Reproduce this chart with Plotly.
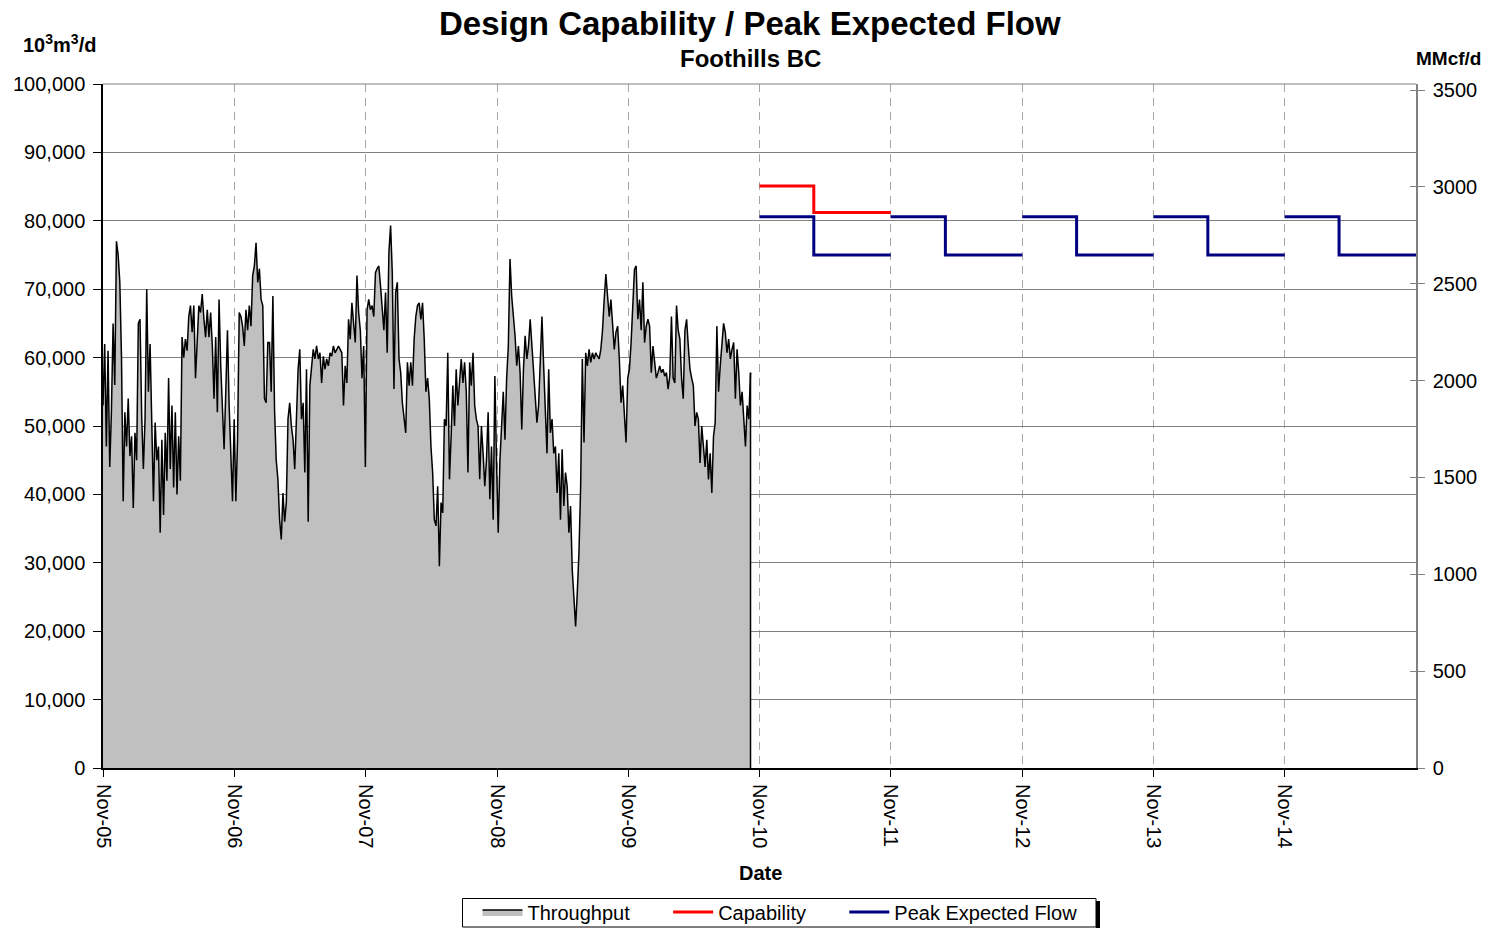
import pandas as pd
import plotly.graph_objects as go

# ---------------- data ----------------
throughput_start = "2005-11-01"
throughput_end = "2010-10-07"
throughput = [
    # Nov-05 .. Nov-06
    53000, 62000, 47000, 61000, 44000, 52000, 65000, 56000, 77000, 75000,
    71000, 60000, 39000, 52000, 47000, 54000, 45600, 48500, 38000, 49000,
    45000, 65000, 65600, 51500, 43700, 51000, 70000, 55000, 62000, 49500,
    39000, 50500, 45000, 47000, 34400, 48000, 37000, 49000, 42000, 57000,
    43700, 53000, 41000, 52000, 40000, 48500, 42000, 63000,
    60000, 62700, 61000, 66000, 67600, 63700, 67600, 57000, 62700, 67600,
    66600, 69300, 65600, 63000, 67000, 63000, 66600, 61700, 54000, 63000,
    52000, 68500, 58800, 52000, 46600, 55000, 64000, 53000, 46600, 39000,
    51000, 39000, 48000, 66600, 66000, 64600, 61700, 67000, 64000, 67600,
    64600, 72000, 73400, 76800, 71000, 73000, 68500, 67600, 54000, 53400,
    62200,
    # Nov-06 .. Nov-07
    62200, 55000, 69000, 52400, 45000, 42200, 36300, 33400, 40200, 36000,
    38800, 51000, 53400, 50000, 48000, 43700, 53000, 58300, 61200, 51000,
    53400, 43200, 58300, 36000, 55900, 59300, 61200, 59800, 61700, 59800,
    60700, 56300, 60200, 58300, 59800, 58800, 60700, 60200, 61700, 60700,
    61200, 61700, 61200, 60700, 53000, 58800, 56300, 65600, 62700, 68000,
    65000, 62200, 72000, 66600, 64000, 57000, 61700, 44000, 67000, 68500,
    67000, 67600, 66000, 72400, 73000, 73400, 70500, 67600, 64000, 69500,
    60700, 75400, 79300, 72400, 55400, 69500, 71000, 59800, 57800, 53400,
    51000, 49000, 59300, 55900, 59300, 55900, 62700, 66000, 67600, 68000,
    65600, 68000, 62700, 55000, 57000, 54000, 47000, 43200, 36300, 35400,
    # Nov-07 .. Nov-09
    41200, 29500, 38800, 37300, 51000, 50000, 60700, 42200, 48500, 55900,
    50000, 58300, 53000, 57300, 59800, 56300, 59300, 55000, 43200, 59300,
    55900, 60700, 53000, 51000, 50000, 42200, 50000, 46000, 41200, 45000,
    52000, 39300, 47000, 36300, 57300, 44600, 34400, 45000, 50000, 55000,
    48000, 57000, 61700, 74400, 69000, 66600, 63200, 58800, 61700, 57800,
    49500, 58300, 63200, 59800, 61700, 65600, 61700, 58800, 54000, 50500,
    53000, 60700, 66000, 58800, 52000, 46000, 58300, 49000, 51000, 46000,
    47000, 40200, 46000, 36300, 46600, 38300, 43200, 41200, 34400, 38300,
    29000, 25600, 20700, 25600, 31500, 41200, 59800, 47600, 60700, 58800,
    61200, 59300, 60700, 59800, 60700,
    # Nov-09 .. Oct-10
    60200, 59800, 61200, 64000, 68500, 72200, 69000, 66000, 68500, 64600,
    61200, 63700, 64600, 59800, 53400, 55900, 51000, 47600, 57000, 58300,
    62200, 68000, 72900, 73400, 65600, 68500, 64000, 71000, 62200, 64600,
    65600, 64600, 57800, 61700, 59300, 57000, 57800, 58800, 57800, 58300,
    57300, 57800, 55400, 57300, 66000, 57000, 56300, 67600, 64000, 62700,
    57000, 54000, 64000, 65600, 61700, 58300, 57000, 55900, 50000, 52000,
    51000, 44600, 50000, 47000, 44000, 48000, 42200, 46000, 40200, 48500,
    50500, 64600, 55000, 58800, 61700, 65000, 63700, 60700, 62700, 59800,
    61200, 62200, 54000, 61200, 57800, 53000, 55000, 51000, 47000, 53000,
    51000, 57800,
]

gas_years = [2010, 2011, 2012, 2013, 2014]
capability_years = [2010]
capability_winter = [85100]
capability_summer = [81200]
peak_winter = [80600, 80600, 80600, 80600, 80600]
peak_summer = [75000, 75000, 75000, 75000, 75000]

series_names = ["Throughput", "Capability", "Peak Expected Flow"]
tick_years = list(range(2005, 2016))
tick_labels = ["Nov-%02d" % (y % 100) for y in tick_years[:-1]]
left_ticks = list(range(0, 100001, 10000))
right_ticks = list(range(0, 3501, 500))
M3_TO_MMCF = 0.0353147  # 10^3 m3/d -> MMcf/d

# ---------------- layout geometry (figure pixels) ----------------
FONT = "Liberation Sans, Arial, sans-serif"
PAD = "&nbsp;" * 6  # extra spacing between legend entries
W, H = 1481, 920          # page has an 8px body margin
ML, MR, MT, MB = 95, 73, 76, 160
PW, PH = W - ML - MR, H - MT - MB


def px(x):
    return (x - ML) / PW


def py(y):
    return (H - MB - y) / PH


tp_dates = pd.date_range(throughput_start, throughput_end, periods=len(throughput))


def seasonal(years, winter, summer):
    xs, ys = [], []
    for y, w, s in zip(years, winter, summer):
        xs += [f"{y}-11-01", f"{y+1}-04-01", f"{y+1}-11-01", None]
        ys += [w, s, s, None]
    return xs, ys


cap_x, cap_y = seasonal(capability_years, capability_winter, capability_summer)
pk_x, pk_y = seasonal(gas_years, peak_winter, peak_summer)

fig = go.Figure()
fig.add_trace(go.Scatter(
    x=tp_dates, y=throughput, name=series_names[0] + PAD, mode="lines",
    line=dict(color="black", width=1.5), fill="tozeroy", fillcolor="#C0C0C0",
))
fig.add_trace(go.Scatter(
    x=cap_x, y=cap_y, name=series_names[1] + PAD, mode="lines", line_shape="hv",
    line=dict(color="#FF0000", width=3), connectgaps=False,
))
fig.add_trace(go.Scatter(
    x=pk_x, y=pk_y, name=series_names[2], mode="lines", line_shape="hv",
    line=dict(color="#000080", width=3), connectgaps=False,
))
# invisible traces to carry the right axis (outside + inside ticks = cross)
fig.add_trace(go.Scatter(
    x=[tp_dates[0]], y=[0], yaxis="y2", mode="lines",
    line=dict(width=0), showlegend=False, hoverinfo="skip",
))
fig.add_trace(go.Scatter(
    x=[tp_dates[0]], y=[0], yaxis="y3", mode="lines",
    line=dict(width=0), showlegend=False, hoverinfo="skip",
))

# vertical closing edge of the throughput area
fig.add_shape(type="line", x0=tp_dates[-1], x1=tp_dates[-1], y0=0,
              y1=throughput[-1], line=dict(color="black", width=1.5))
# top border of plot box
fig.add_shape(type="line", xref="paper", yref="paper", x0=0, x1=1, y0=1, y1=1,
              line=dict(color="#808080", width=1))
# legend frame with drop shadow
fig.add_shape(type="rect", xref="paper", yref="paper",
              x0=px(1088), x1=px(1092), y0=py(893), y1=py(921),
              fillcolor="black", line=dict(width=0))
fig.add_shape(type="rect", xref="paper", yref="paper",
              x0=px(454.5), x1=px(1088), y0=py(890.5), y1=py(919),
              fillcolor="rgba(0,0,0,0)", line=dict(color="black", width=1))

fig.update_layout(
    width=W, height=H,
    margin=dict(l=ML, r=MR, t=MT, b=MB, autoexpand=False),
    paper_bgcolor="white", plot_bgcolor="white",
    font=dict(family=FONT, size=20, color="black"),
    showlegend=True,
    legend=dict(
        orientation="h", xref="container", yref="container",
        x=772 / W, xanchor="center", y=0.0174, yanchor="middle",
        borderwidth=0, bgcolor="rgba(0,0,0,0)",
        font=dict(size=20), itemwidth=40, traceorder="normal",
    ),
    xaxis=dict(
        type="date", range=["2005-11-01", "2015-11-01"],
        tickvals=[f"{y}-11-01" for y in tick_years[:-1]], ticktext=tick_labels,
        tickangle=90, ticks="outside", ticklen=7, tickcolor="black",
        showline=True, linecolor="black", linewidth=2,
        showgrid=True, gridcolor="#A6A6A6", griddash="8px,6px", gridwidth=1,
        zeroline=False, tickfont=dict(size=20), ticklabelstandoff=3,
        automargin=False,
    ),
    yaxis=dict(
        range=[0, 100000], tickvals=left_ticks, tickformat=",",
        ticks="outside", ticklen=8, tickcolor="black",
        showline=True, linecolor="black", linewidth=1.5,
        showgrid=True, gridcolor="#808080", gridwidth=1, zeroline=False,
        tickfont=dict(size=20), ticklabelstandoff=4, automargin=False,
    ),
    yaxis2=dict(
        overlaying="y", side="right", range=[0, 100000 * M3_TO_MMCF],
        tickvals=right_ticks, ticks="outside", ticklen=7, tickcolor="#808080",
        showline=True, linecolor="#808080", linewidth=1.5,
        showgrid=False, zeroline=False, tickfont=dict(size=20),
        ticklabelstandoff=4, automargin=False,
    ),
    yaxis3=dict(
        overlaying="y", side="right", range=[0, 100000 * M3_TO_MMCF],
        tickvals=right_ticks, ticks="inside", ticklen=6, tickcolor="#808080",
        showline=False, showgrid=False, zeroline=False,
        showticklabels=False, automargin=False,
    ),
    annotations=[
        dict(text="<b>Design Capability / Peak Expected Flow</b>", xref="paper",
             yref="paper", x=px(742), y=py(16), xanchor="center",
             yanchor="middle", showarrow=False, font=dict(size=33)),
        dict(text="<b>Foothills BC</b>", xref="paper", yref="paper",
             x=px(742), y=py(50), xanchor="center",
             yanchor="middle", showarrow=False, font=dict(size=24)),
        dict(text="<b>10<sup>3</sup>m<sup>3</sup>/d</b>", xref="paper", yref="paper",
             x=px(13), y=py(36), xanchor="left",
             yanchor="middle", showarrow=False, font=dict(size=20)),
        dict(text="<b>MMcf/d</b>", xref="paper", yref="paper",
             x=px(1475), y=py(50), xanchor="right",
             yanchor="middle", showarrow=False, font=dict(size=19)),
        dict(text="<b>Date</b>", xref="paper", yref="paper",
             x=px(752), y=py(865), xanchor="center",
             yanchor="middle", showarrow=False, font=dict(size=20)),
    ],
)

fig.write_html("out.html")
